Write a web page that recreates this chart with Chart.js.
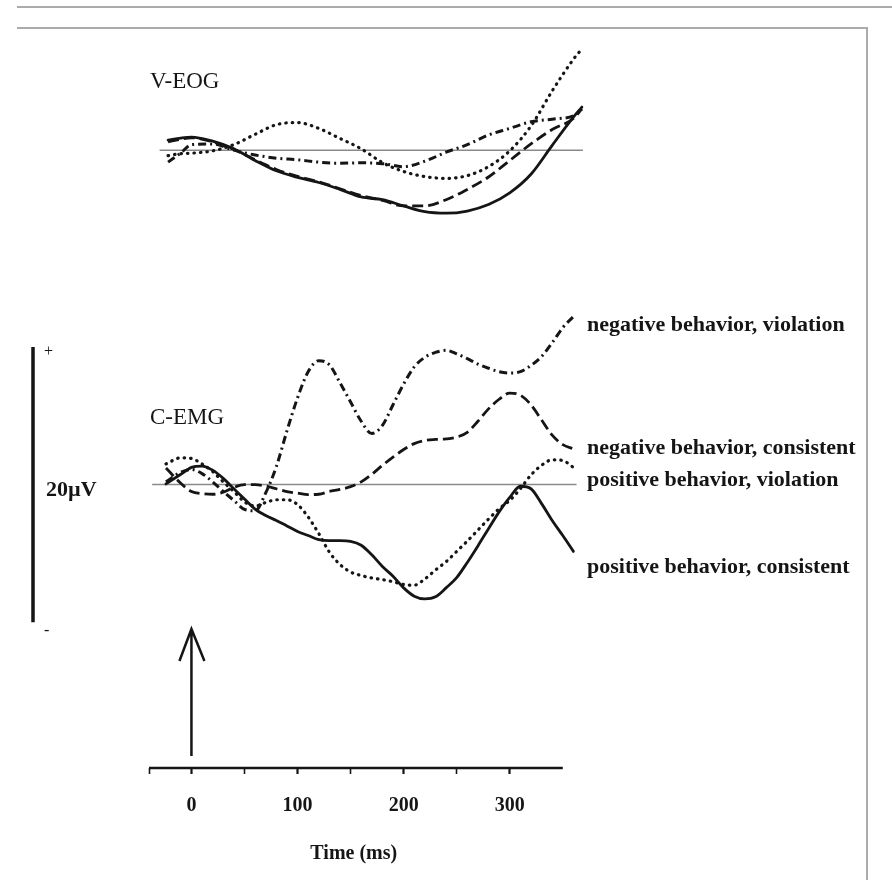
<!DOCTYPE html>
<html lang="en">
<head>
  <meta charset="UTF-8">
  <title>V-EOG and C-EMG responses</title>
  <script src="https://cdn.jsdelivr.net/npm/chart.js@4.4.1/dist/chart.umd.min.js"></script>
  <style>
    body {
      margin: 0;
      background: #fff;
    }

    #wrap {
      position: relative;
      width: 892px;
      height: 880px;
      overflow: hidden;
    }

    .rule {
      position: absolute;
      border-top: 2px solid #ababab;
    }

    #rule1 { top: 6px; left: 17px; right: 0; }
    #frame { top: 27px; left: 17px; width: 849px; height: 860px; border-right: 2px solid #ababab; }

    canvas {
      position: absolute;
      left: 0;
      top: 0;
    }
  </style>
</head>
<body>
  <div id="wrap">
    <div class="rule" id="rule1"></div>
    <div class="rule" id="frame"></div>
    <canvas id="chart" width="892" height="880"></canvas>
  </div>

  <script>
    // ---------------- data (ms, µV) ---------------- //
    const eogTime = [-22, -10, 0, 20, 40, 60, 80, 100, 120, 140, 160, 180, 200, 220, 240, 260, 280, 300, 320, 340, 360, 368];
    const eogNegViolation  = [-0.87, -0.2, 0.4, 0.45, 0.0, -0.35, -0.58, -0.7, -0.87, -0.95, -0.92, -0.98, -1.2, -0.8, -0.15, 0.4, 1.1, 1.58, 2.06, 2.25, 2.5, 2.95];
    const eogNegConsistent = [0.6, 0.8, 0.9, 0.6, 0.05, -0.7, -1.4, -1.9, -2.3, -2.8, -3.3, -3.65, -4.05, -4.05, -3.6, -2.85, -1.95, -0.75, 0.45, 1.5, 2.3, 3.0];
    const eogPosViolation  = [-0.4, -0.25, -0.22, -0.05, 0.4, 1.15, 1.85, 2.0, 1.58, 0.85, 0.1, -0.9, -1.55, -1.92, -2.05, -1.85, -1.2, -0.05, 1.75, 4.3, 6.6, 7.35];
    const eogPosConsistent = [0.73, 0.88, 0.95, 0.65, 0.1, -0.75, -1.5, -1.98, -2.35, -2.85, -3.4, -3.6, -4.05, -4.47, -4.58, -4.42, -3.95, -3.1, -1.75, 0.35, 2.4, 3.13];

    const emgTime = [-24, -10, 0, 10, 20, 30, 40, 50, 60, 70, 80, 90, 100, 110, 120, 130, 140, 150, 160, 170,
                     180, 190, 200, 210, 220, 230, 240, 250, 260, 270, 280, 290, 300, 310, 320, 330, 340, 350, 360];
    const emgNegViolation  = [0.2, 0.9, 1.1, 0.8, 0.2, -0.5, -1.15, -1.8, -1.9, -0.6, 1.3, 3.9, 6.3, 8.2, 9.0, 8.7, 7.4, 6.0, 4.6, 3.72,
                              4.3, 5.8, 7.3, 8.55, 9.25, 9.6, 9.75, 9.5, 9.15, 8.75, 8.45, 8.2, 8.1, 8.2, 8.65, 9.3, 10.3, 11.4, 12.2];
    const emgNegConsistent = [1.2, 0.1, -0.5, -0.65, -0.7, -0.55, -0.2, 0.0, 0.0, -0.1, -0.3, -0.5, -0.62, -0.72, -0.7, -0.5, -0.35, -0.15, 0.2, 0.75,
                              1.4, 2.0, 2.55, 2.98, 3.2, 3.28, 3.32, 3.45, 3.8, 4.6, 5.5, 6.2, 6.65, 6.5, 5.8, 4.7, 3.6, 2.9, 2.6];
    const emgPosViolation  = [1.5, 1.95, 1.9, 1.5, 0.95, 0.2, -0.5, -1.25, -1.55, -1.3, -1.1, -1.1, -1.45, -2.35, -3.55, -4.9, -5.8, -6.35, -6.6, -6.78,
                              -6.9, -7.05, -7.25, -7.3, -6.85, -6.2, -5.6, -4.85, -4.1, -3.3, -2.5, -1.75, -1.15, -0.3, 0.7, 1.4, 1.8, 1.75, 1.25];
    const emgPosConsistent = [0.05, 0.75, 1.25, 1.35, 1.05, 0.45, -0.3, -1.05, -1.78, -2.25, -2.6, -3.0, -3.4, -3.7, -4.0, -4.07, -4.07, -4.12, -4.4, -5.1,
                              -5.95, -6.65, -7.5, -8.1, -8.3, -8.15, -7.5, -6.75, -5.65, -4.45, -3.2, -1.98, -0.93, -0.12, -0.3, -1.38, -2.6, -3.7, -4.85];

    const tickMs = [-40, 0, 50, 100, 150, 200, 250, 300];
    const tickLabels = ['0', '100', '200', '300'];
    const conditionNames = ['negative behavior, violation', 'negative behavior, consistent',
                            'positive behavior, violation', 'positive behavior, consistent'];
    const panelNames = ['V-EOG', 'C-EMG'];
    const scaleBarUv = 20;

    // ---------------- styles ---------------- //
    const ink = '#151515';
    const serif = '"Liberation Serif", "Times New Roman", serif';
    const lineStyles = [
      { dash: [8, 4, 2, 4], cap: 'butt', width: 3 },     // negative, violation
      { dash: [11, 5], cap: 'butt', width: 2.8 },        // negative, consistent
      { dash: [0.5, 6], cap: 'round', width: 3.2 },      // positive, violation
      { dash: [], cap: 'round', width: 2.8 }             // positive, consistent
    ];

    function series(name, times, values, axis, style) {
      return {
        label: name,
        data: times.map((t, i) => ({ x: t, y: values[i] })),
        yAxisID: axis,
        borderColor: ink,
        borderWidth: style.width,
        borderDash: style.dash,
        borderCapStyle: style.cap,
        pointRadius: 0,
        fill: false,
        cubicInterpolationMode: 'monotone'
      };
    }

    const eogSets = [eogNegViolation, eogNegConsistent, eogPosViolation, eogPosConsistent];
    const emgSets = [emgNegViolation, emgNegConsistent, emgPosViolation, emgPosConsistent];
    const datasets = [];
    eogSets.forEach((v, i) => datasets.push(series('V-EOG ' + conditionNames[i], eogTime, v, 'yEOG', lineStyles[i])));
    emgSets.forEach((v, i) => datasets.push(series('C-EMG ' + conditionNames[i], emgTime, v, 'yEMG', lineStyles[i])));

    // ---------------- extras: baselines, axis, scale bar, labels ---------------- //
    const baselines = {
      id: 'baselines',
      beforeDatasetsDraw(chart) {
        const { ctx, scales } = chart;
        const x = scales.x;
        ctx.save();
        ctx.strokeStyle = '#8a8a8a';
        ctx.lineWidth = 1.5;
        [[scales.yEOG, -30, 369], [scales.yEMG, -37, 363]].forEach(([y, a, b]) => {
          ctx.beginPath();
          ctx.moveTo(x.getPixelForValue(a), y.getPixelForValue(0));
          ctx.lineTo(x.getPixelForValue(b), y.getPixelForValue(0));
          ctx.stroke();
        });
        ctx.restore();
      }
    };

    const annotations = {
      id: 'annotations',
      afterDatasetsDraw(chart) {
        const { ctx, chartArea, scales } = chart;
        const x = scales.x, eog = scales.yEOG, emg = scales.yEMG;
        ctx.save();
        ctx.strokeStyle = ink;
        ctx.fillStyle = ink;

        // time axis line
        ctx.lineWidth = 2.5;
        ctx.beginPath();
        ctx.moveTo(x.getPixelForValue(-40), chartArea.bottom);
        ctx.lineTo(x.getPixelForValue(350), chartArea.bottom);
        ctx.stroke();

        // stimulus arrow at 0 ms
        const ax = x.getPixelForValue(0);
        const tipY = chartArea.bottom - 139;
        ctx.lineWidth = 2.5;
        ctx.beginPath();
        ctx.moveTo(ax, chartArea.bottom - 12);
        ctx.lineTo(ax, tipY);
        ctx.moveTo(ax - 12, tipY + 32);
        ctx.lineTo(ax, tipY);
        ctx.lineTo(ax + 13, tipY + 32);
        ctx.stroke();

        // 20 µV scale bar
        const barX = 33;
        const top = emg.getPixelForValue(scaleBarUv / 2);
        const bottom = emg.getPixelForValue(-scaleBarUv / 2);
        ctx.lineWidth = 3.5;
        ctx.beginPath();
        ctx.moveTo(barX, top);
        ctx.lineTo(barX, bottom);
        ctx.stroke();

        ctx.textBaseline = 'middle';
        ctx.textAlign = 'left';
        ctx.font = '16px ' + serif;
        ctx.fillText('+', barX + 11, top + 5);
        ctx.fillText('-', barX + 11, bottom + 8);
        ctx.font = 'bold 22px ' + serif;
        ctx.fillText(scaleBarUv + 'µV', barX + 13, emg.getPixelForValue(-0.4));

        // panel names
        ctx.font = '23px ' + serif;
        ctx.fillText(panelNames[0], chartArea.left + 1, eog.getPixelForValue(4.95));
        ctx.fillText(panelNames[1], chartArea.left + 1, emg.getPixelForValue(4.87));

        // condition labels to the right of the C-EMG traces
        ctx.font = 'bold 22px ' + serif;
        const labelUv = [11.56, 2.62, 0.29, -6.04];
        conditionNames.forEach((name, i) => {
          ctx.fillText(name, chartArea.right + 3, emg.getPixelForValue(labelUv[i]));
        });

        // axis title
        ctx.font = 'bold 20px ' + serif;
        ctx.textAlign = 'center';
        ctx.fillText('Time (ms)', x.getPixelForValue(153), chartArea.bottom + 86);
        ctx.restore();
      }
    };

    new Chart(document.getElementById('chart'), {
      type: 'line',
      data: { datasets },
      options: {
        responsive: false,
        animation: false,
        layout: { padding: { left: 149, right: 308, top: 40, bottom: 42 } },
        plugins: {
          legend: { display: false },
          tooltip: { enabled: false }
        },
        scales: {
          x: {
            type: 'linear',
            min: -40,
            max: 370,
            afterBuildTicks: scale => { scale.ticks = tickMs.map(v => ({ value: v })); },
            border: { display: false },
            grid: {
              drawOnChartArea: false,
              drawTicks: true,
              tickLength: 6,
              tickColor: ink,
              tickWidth: c => (c.tick && c.tick.value % 100 === 0 ? 2.2 : 1.6)
            },
            ticks: {
              autoSkip: false,
              maxRotation: 0,
              padding: 20,
              color: ink,
              font: { family: serif, size: 20, weight: 'bold' },
              callback: v => (v >= 0 && v % 100 === 0 ? tickLabels[v / 100] : '')
            }
          },
          yEOG: { type: 'linear', display: false, min: -44.87, max: 8.0 },
          yEMG: { type: 'linear', display: false, min: -20.58, max: 32.29 }
        }
      },
      plugins: [baselines, annotations]
    });
  </script>
</body>
</html>
